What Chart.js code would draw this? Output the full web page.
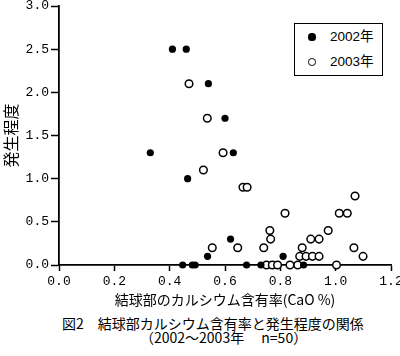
<!DOCTYPE html>
<html><head><meta charset="utf-8">
<script src="https://cdn.jsdelivr.net/npm/chart.js@4/dist/chart.umd.min.js"></script>
<style>
html,body{margin:0;padding:0;background:#fff;}
#wrap{position:relative;width:400px;height:356px;overflow:hidden;}
#c{position:absolute;left:0;top:0;}
.cap{position:absolute;white-space:pre;font-family:"Noto Sans CJK JP",sans-serif;font-size:14px;line-height:16px;color:#000;}
#legend{position:absolute;left:294px;top:23px;width:87px;height:51px;border:1.5px solid #000;background:#fff;font-family:"Liberation Sans","Noto Sans CJK JP",sans-serif;font-size:13.5px;color:#000;}
.li{position:absolute;left:0;height:16px;line-height:16px;white-space:pre;}
.mk{position:absolute;top:50%;border-radius:50%;box-sizing:border-box;}
.lt{position:absolute;left:35px;top:0;}
</style></head>
<body>
<div id="wrap">
<canvas id="c" width="400" height="310"></canvas>
<div id="legend"></div>
<div class="cap" id="cap1" style="left:62px;top:315px;"></div>
<div class="cap" id="cap2" style="left:140px;top:329px;"></div>
</div>
<script>
const seriesLabels = ['2002年', '2003年'];
const x2002 = [0.41,0.46,0.54,0.60,0.33,0.63,0.465,0.62,0.537,0.81,0.447,0.482,0.492,0.678,0.73,0.884];
const y2002 = [2.5,2.5,2.1,1.7,1.3,1.3,1.0,0.3,0.1,0.1,0,0,0,0,0,0];
const x2003 = [0.47,0.536,0.593,0.522,0.665,0.68,0.554,0.646,0.74,0.762,0.765,0.817,0.879,0.87,0.893,0.916,0.94,0.91,0.94,0.973,1.013,1.042,1.07,1.066,1.099,0.75,0.771,0.79,0.835,0.863,1.003];
const y2003 = [2.1,1.7,1.3,1.1,0.9,0.9,0.2,0.2,0.2,0.4,0.3,0.6,0.2,0.1,0.1,0.1,0.1,0.3,0.3,0.4,0.6,0.6,0.8,0.2,0.1,0,0,0,0,0,0];
const xTitle = '結球部のカルシウム含有率(CaO %)';
const yTitle = '発生程度';
const caption1 = '図2　結球部カルシウム含有率と発生程度の関係';
const caption2 = '（2002～2003年　 n=50）';

document.getElementById('cap1').textContent = caption1;
document.getElementById('cap2').textContent = caption2;

const pts = (xs, ys) => xs.map((x, i) => ({x: x, y: ys[i]}));
const tickFont = {family: '"Liberation Mono", monospace', size: 13};

const chart = new Chart(document.getElementById('c'), {
  type: 'scatter',
  data: {
    datasets: [
      {label: seriesLabels[0], data: pts(x2002, y2002), pointStyle: 'circle', pointRadius: 3.6, pointHoverRadius: 3.6,
       backgroundColor: '#000', borderColor: '#000', borderWidth: 0, clip: false},
      {label: seriesLabels[1], data: pts(x2003, y2003), pointStyle: 'circle', pointRadius: 3.8, pointHoverRadius: 3.8,
       backgroundColor: '#fff', borderColor: '#000', borderWidth: 1.5, clip: false}
    ]
  },
  options: {
    responsive: false,
    animation: false,
    devicePixelRatio: 1,
    layout: {padding: {left: 0, right: 9, top: 6, bottom: 0}},
    plugins: {legend: {display: false}, tooltip: {enabled: false}, title: {display: false}},
    scales: {
      x: {
        type: 'linear', min: 0, max: 1.2,
        ticks: {stepSize: 0.2, color: '#000', font: tickFont, padding: 3, maxRotation: 0,
                callback: v => Number(v).toFixed(1)},
        grid: {display: true, drawOnChartArea: false, drawTicks: true, tickLength: 6, color: '#000', tickWidth: 1.5},
        border: {display: true, color: '#000', width: 1.8},
        title: {display: true, text: xTitle, color: '#000',
                font: {family: '"Noto Sans CJK JP", sans-serif', size: 14}, padding: {top: 0, bottom: 2}},
        afterFit: s => { s.height = 45; s.paddingLeft = 0; s.paddingRight = 0; }
      },
      y: {
        type: 'linear', min: 0, max: 3,
        ticks: {stepSize: 0.5, color: '#000', font: tickFont, padding: 2,
                callback: v => Number(v).toFixed(1)},
        grid: {display: true, drawOnChartArea: false, drawTicks: true, tickLength: 8, color: '#000', tickWidth: 1.5},
        border: {display: true, color: '#000', width: 1.8},
        title: {display: true, text: yTitle, color: '#000',
                font: {family: '"Noto Sans CJK JP", sans-serif', size: 16}, padding: {top: 1, bottom: 0}},
        afterFit: s => { s.width = 59; s.paddingTop = 0; s.paddingBottom = 0; }
      }
    }
  }
});

// HTML legend built from the chart's datasets
const lg = document.getElementById('legend');
chart.data.datasets.forEach((ds, i) => {
  const row = document.createElement('div');
  row.className = 'li';
  row.style.top = (i === 0 ? 5 : 30) + 'px';
  row.style.width = '87px';
  const mk = document.createElement('span');
  mk.className = 'mk';
  const d = ds.pointRadius * 2;
  mk.style.width = d + 'px'; mk.style.height = d + 'px';
  mk.style.left = (17 - d / 2) + 'px';
  mk.style.marginTop = (-d / 2) + 'px';
  mk.style.background = ds.backgroundColor;
  mk.style.border = ds.borderWidth ? (ds.borderWidth + 'px solid ' + ds.borderColor) : 'none';
  const t = document.createElement('span');
  t.className = 'lt';
  t.textContent = ds.label;
  row.appendChild(mk); row.appendChild(t);
  lg.appendChild(row);
});
</script>
</body></html>
